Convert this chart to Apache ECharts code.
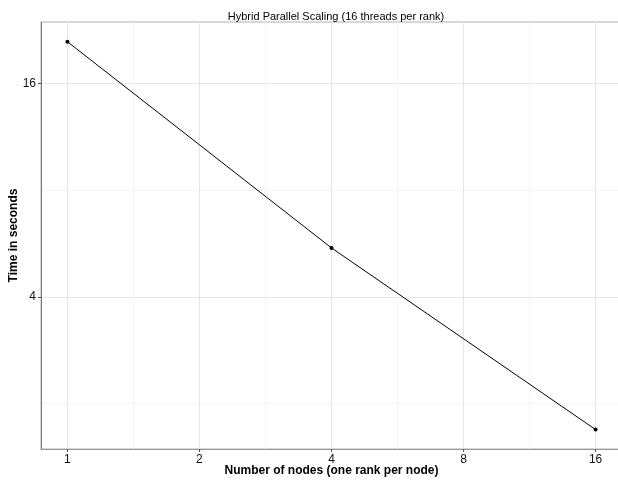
<!DOCTYPE html>
<html>
<head>
<meta charset="utf-8">
<script src="https://cdn.jsdelivr.net/npm/echarts@6/dist/echarts.min.js"></script>
<style>html,body{margin:0;padding:0;background:#fff}#c{width:618px;height:480px}</style>
</head>
<body>
<div id="c"></div>
<script>
const nodes = [1, 4, 16];
const seconds = [21.0, 5.5, 1.69];
const xTicks = [1, 2, 4, 8, 16];
const yTicks = [4, 16];

const chart = echarts.init(document.getElementById('c'), null, {renderer: 'canvas'});
const font = '"Liberation Sans", Arial, Helvetica, sans-serif';
const isTick = (v, list) => list.some(t => Math.abs(t - v) < 1e-6 * t);
const MAJOR = '#e6e6e6', MINOR = '#f5f5f5';
const xMin = Math.pow(2, -0.2), xMax = Math.pow(2, 4.2);
const yMin = Math.pow(2, 0.575), yMax = Math.pow(2, 4.577);

chart.setOption({
  animation: false,
  backgroundColor: '#ffffff',
  title: {
    text: 'Hybrid Parallel Scaling (16 threads per rank)',
    left: 331, top: 6, textAlign: 'center',
    textStyle: {fontFamily: font, fontSize: 11, fontWeight: 'normal', color: '#000'}
  },
  grid: {left: 41, top: 22, width: 581, height: 427, show: true, borderColor: '#b0b0b0', borderWidth: 1,
    containLabel: false, outerBoundsMode: 'none'},
  xAxis: [{
    type: 'log', logBase: 2, min: xMin, max: xMax, z: 3,
    name: 'Number of nodes (one rank per node)', nameLocation: 'middle', nameGap: 16, nameMoveOverlap: false,
    nameTextStyle: {fontFamily: font, fontSize: 12, fontWeight: 'bold', color: '#000'},
    axisLine: {show: true, lineStyle: {color: '#999', width: 1}},
    axisTick: {show: true, length: 3, lineStyle: {color: '#555'}},
    axisLabel: {fontFamily: font, fontSize: 12, color: '#111', margin: 5,
      showMinLabel: false, showMaxLabel: false,
      formatter: v => isTick(v, xTicks) ? String(Math.round(v)) : ''},
    splitLine: {show: false}
  }, {
    type: 'log', logBase: Math.SQRT2, min: xMin, max: xMax, position: 'bottom', z: 1,
    axisLine: {show: false}, axisTick: {show: false}, axisLabel: {show: false},
    splitLine: {show: true, showMinLine: false, showMaxLine: false, lineStyle: {color: [MAJOR, MINOR], width: 1}}
  }],
  yAxis: [{
    type: 'log', logBase: 4, min: yMin, max: yMax, z: 3,
    name: 'Time in seconds', nameLocation: 'middle', nameGap: 21, nameRotate: 90, nameMoveOverlap: false,
    nameTextStyle: {fontFamily: font, fontSize: 12, fontWeight: 'bold', color: '#000'},
    axisLine: {show: true, lineStyle: {color: '#777', width: 1}},
    axisTick: {show: true, length: 3, lineStyle: {color: '#555'}},
    axisLabel: {fontFamily: font, fontSize: 12, color: '#111', margin: 5,
      showMinLabel: false, showMaxLabel: false,
      formatter: v => isTick(v, yTicks) ? String(Math.round(v)) : ''},
    splitLine: {show: false}
  }, {
    type: 'log', logBase: 2, min: yMin, max: yMax, position: 'left', z: 1,
    axisLine: {show: false}, axisTick: {show: false}, axisLabel: {show: false},
    splitLine: {show: true, showMinLine: false, showMaxLine: false, lineStyle: {color: [MINOR, MAJOR], width: 1}}
  }],
  series: [{
    type: 'line', xAxisIndex: 0, yAxisIndex: 0,
    data: nodes.map((n, i) => [n, seconds[i]]),
    lineStyle: {color: '#000', width: 1},
    itemStyle: {color: '#000'},
    symbol: 'circle', symbolSize: 4, showSymbol: true
  }]
});
</script>
</body>
</html>
